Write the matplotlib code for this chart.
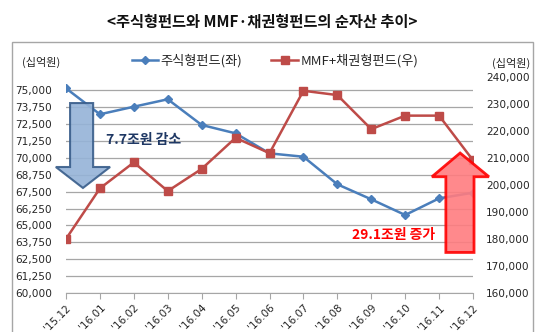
import numpy as np
import matplotlib
matplotlib.use("Agg")
import matplotlib.pyplot as plt
from matplotlib.patches import Polygon, Rectangle
from matplotlib.ticker import FuncFormatter

plt.rcParams['font.family'] = ['Noto Sans CJK KR', 'DejaVu Sans']

# data
months = ["'15.12", "'16.01", "'16.02", "'16.03", "'16.04", "'16.05", "'16.06",
          "'16.07", "'16.08", "'16.09", "'16.10", "'16.11", "'16.12"]
stock_fund = [75140, 73220, 73780, 74330, 72430, 71810, 70330,
              70080, 68040, 66930, 65770, 67000, 67420]
mmf_bond_fund = [180000, 198700, 208300, 197700, 205900, 217400, 211700,
                 234800, 233200, 220600, 225600, 225600, 209100]

blue = '#4A7EBB'
red = '#BE4B48'
txt = '#262626'

fig = plt.figure(figsize=(5.45, 3.32), dpi=100)
W, H = 545, 332

# outer frame
fig.patches.append(Rectangle((12 / W, -0.05), (533 - 12) / W, 1.05 - 42 / H,
                             transform=fig.transFigure, fill=False,
                             edgecolor='#A6A6A6', linewidth=1.0))

fig.text(262 / W, 1 - 22 / H, '<주식형펀드와 MMF·채권형펀드의 순자산 추이>',
         ha='center', va='center', fontsize=11, fontweight='bold', color='#111111')

ax = fig.add_axes([66 / W, 1 - 293 / H, (473 - 66) / W, (293 - 76.7) / H])
ax2 = ax.twinx()

x = np.arange(len(months))
l1, = ax.plot(x, stock_fund, color=blue, lw=1.8, marker='D', ms=4.5,
              markeredgecolor=blue, label='주식형펀드(좌)', zorder=3)
l2, = ax2.plot(x, mmf_bond_fund, color=red, lw=1.8, marker='s', ms=6,
               markeredgecolor=red, label='MMF+채권형펀드(우)', zorder=3)

ax.set_xlim(0, 12)
ax.set_ylim(60000, 76000)
ax.set_yticks(np.arange(60000, 75001, 1250))
ax2.set_ylim(160000, 240000)
ax2.set_yticks(np.arange(160000, 240001, 10000))
fmt = FuncFormatter(lambda v, p: f'{v:,.0f}')
ax.yaxis.set_major_formatter(fmt)
ax2.yaxis.set_major_formatter(fmt)

ax.grid(axis='y', color='#A6A6A6', lw=0.9)
ax.set_axisbelow(True)
for a in (ax, ax2):
    for s in ('top', 'left', 'right'):
        a.spines[s].set_visible(False)
    a.spines['bottom'].set_color('#A6A6A6')
ax2.spines['bottom'].set_visible(False)

ax.set_xticks(x)
ax.set_xticklabels(months, rotation=45, ha='right', rotation_mode='anchor',
                   fontsize=7.5, color=txt, family='DejaVu Sans')
ax.tick_params(axis='x', length=4, color='#A6A6A6', pad=3)
ax.tick_params(axis='y', length=0, pad=10, labelcolor=txt)
ax2.tick_params(axis='y', length=0, pad=9.4, labelcolor=txt)
for lab in ax.get_yticklabels() + ax2.get_yticklabels():
    lab.set_family('DejaVu Sans')
    lab.set_fontsize(7.6)

fig.text(22 / W, 1 - 62 / H, '(십억원)', ha='left', va='center', fontsize=8, color=txt)
fig.text(530 / W, 1 - 63 / H, '(십억원)', ha='right', va='center', fontsize=8, color=txt)

fig.legend(handles=[l1, l2], loc='center', bbox_to_anchor=(275 / W, 1 - 61 / H),
           ncol=2, frameon=False, fontsize=9.5, handlelength=2.0,
           columnspacing=2.2, handletextpad=0.2, labelcolor=txt)

# down arrow (left axis coordinates)
down = [(0.12, 74050), (0.80, 74050), (0.80, 69320), (1.30, 69320),
        (0.50, 67770), (-0.30, 69320), (0.12, 69320)]
ax.add_patch(Polygon(down, closed=True, facecolor='#95B3D7', alpha=0.9,
                     edgecolor='#385D8A', lw=1.5, clip_on=False, zorder=5))
ax.text(1.18, 71300, '7.7조원 감소', fontsize=10, fontweight='bold',
        color='#1F3864', va='center', ha='left', zorder=6)

# up arrow (right axis coordinates)
up = [(11.20, 175000), (12.03, 175000), (12.03, 203000), (12.47, 203000),
      (11.62, 211770), (10.79, 203000), (11.20, 203000)]
ax2.add_patch(Polygon(up, closed=True, facecolor='#FF7C80', alpha=0.9,
                      edgecolor='#FF0000', lw=2, clip_on=False, zorder=5))
ax2.text(8.42, 181500, '29.1조원 증가', fontsize=10, fontweight='bold',
         color='#FF0000', va='center', ha='left', zorder=6)

fig.savefig('out.png', dpi=100)
